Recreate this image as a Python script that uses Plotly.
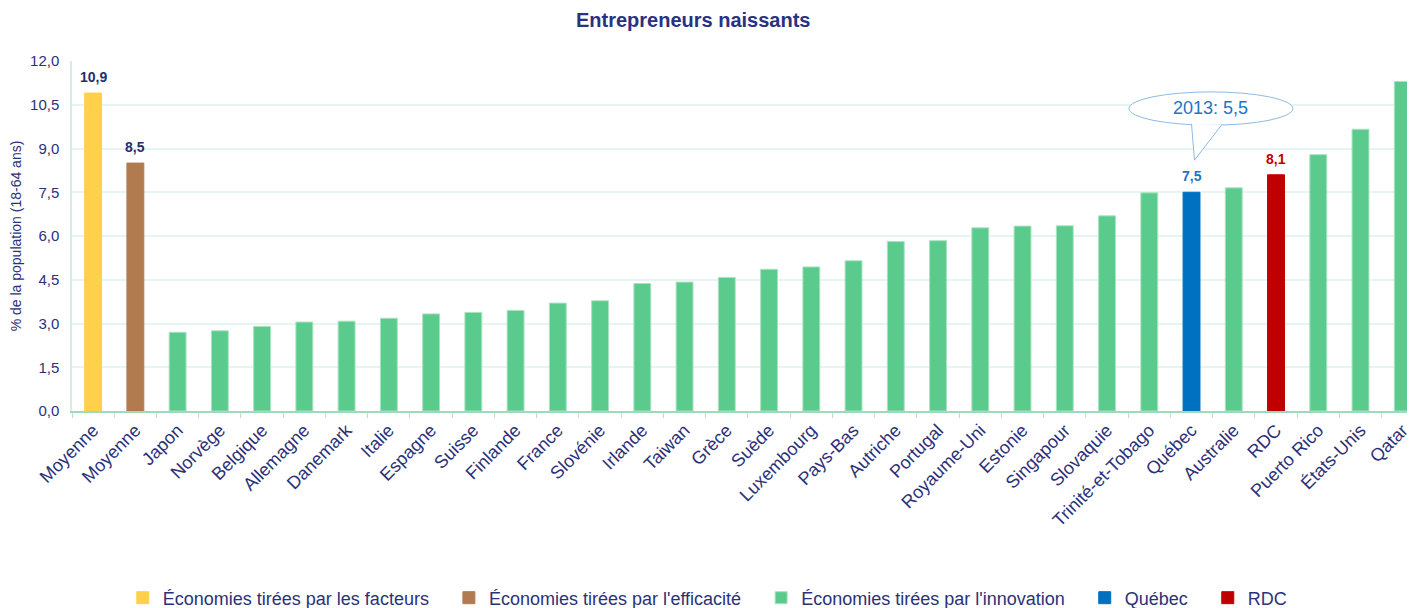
import plotly.graph_objects as go

categories = ["Moyenne", "Moyenne", "Japon", "Norvège", "Belgique", "Allemagne", "Danemark",
              "Italie", "Espagne", "Suisse", "Finlande", "France", "Slovénie", "Irlande",
              "Taiwan", "Grèce", "Suède", "Luxembourg", "Pays-Bas", "Autriche", "Portugal",
              "Royaume-Uni", "Estonie", "Singapour", "Slovaquie", "Trinité-et-Tobago",
              "Québec", "Australie", "RDC", "Puerto Rico", "États-Unis", "Qatar"]
values = [10.9, 8.5, 2.7, 2.75, 2.9, 3.05, 3.08, 3.18, 3.33, 3.38, 3.45, 3.7, 3.78, 4.37,
          4.42, 4.58, 4.86, 4.94, 5.15, 5.81, 5.84, 6.28, 6.34, 6.35, 6.69, 7.48,
          7.5, 7.65, 8.1, 8.79, 9.66, 11.3]
groups = ["facteurs", "efficacite"] + ["innovation"] * 24 + ["quebec", "innovation", "rdc",
          "innovation", "innovation", "innovation"]
labelled = {0: "10,9", 1: "8,5", 26: "7,5", 28: "8,1"}
quebec_2013 = 5.5

group_names = {
    "facteurs": "Économies tirées par les facteurs",
    "efficacite": "Économies tirées par l'efficacité",
    "innovation": "Économies tirées par l'innovation",
    "quebec": "Québec",
    "rdc": "RDC",
}
group_colors = {
    "facteurs": "#FFD04C",
    "efficacite": "#B27B4F",
    "innovation": "#5BCB8D",
    "quebec": "#0070C0",
    "rdc": "#C00000",
}
label_colors = {"facteurs": "#262C6E", "efficacite": "#262C6E", "quebec": "#1C76C2", "rdc": "#C00000"}

NAVY = "#2B3178"
FONT = "Liberation Sans, Arial, sans-serif"
PAD = "\u00a0\u00a0\u00a0"

fig = go.Figure()
order = ["facteurs", "efficacite", "innovation", "quebec", "rdc"]
for k, g in enumerate(order):
    idx = [i for i, gg in enumerate(groups) if gg == g]
    line_col = "#A9E3C4" if g == "innovation" else group_colors[g]
    name = group_names[g] + (PAD if k < len(order) - 1 else "")
    fig.add_trace(go.Bar(
        x=idx, y=[values[i] for i in idx], name=name, width=0.4,
        marker=dict(color=group_colors[g], line=dict(color=line_col, width=1)),
        hoverinfo="skip",
    ))

for i, txt in labelled.items():
    fig.add_annotation(x=i, y=values[i], text="<b>%s</b>" % txt, showarrow=False,
                       yanchor="bottom", yshift=6,
                       font=dict(size=14, color=label_colors[groups[i]], family=FONT))

# callout for Québec 2013
qi = categories.index("Québec")
fig.add_shape(type="circle", xref="x", yref="y", x0=qi - 1.48, x1=qi + 2.4, y0=9.8, y1=10.94,
              line=dict(color="#8DBBE3", width=1), fillcolor="white", layer="above")
fig.add_shape(type="path", xref="x", yref="y",
              path="M %f,%f L %f,%f L %f,%f" % (qi - 0.0, 9.84, qi + 0.07, values[qi] + 1.1, qi + 0.72, 9.82),
              line=dict(color="#8DBBE3", width=1), fillcolor="white", layer="above")
fig.add_annotation(x=qi + 0.46, y=10.4, text="2013: %s" % str(quebec_2013).replace(".", ","),
                   showarrow=False, font=dict(size=18, color="#1C76C2", family=FONT))

fig.update_layout(
    width=1407, height=600,
    margin=dict(l=64, r=0, t=53, b=197),
    paper_bgcolor="white", plot_bgcolor="white",
    separators=", ",
    barmode="overlay",
    font=dict(family=FONT, color=NAVY),
    title=dict(text="<b>Entrepreneurs naissants</b>", x=0.487, xanchor="center",
               y=0.98, yanchor="middle", xref="container", yref="container",
               font=dict(size=20, color="#2B3180", family=FONT)),
    legend=dict(orientation="h", xref="container", yref="container", x=0.497, xanchor="center",
                y=0.0167, yanchor="middle", font=dict(size=18, color=NAVY, family=FONT),
                traceorder="normal", itemwidth=30),
    showlegend=True,
)
fig.update_xaxes(
    range=[-0.5, 31.29], tickmode="array", tickvals=list(range(len(categories))),
    ticktext=categories, tickangle=-45, ticks="", showgrid=False,
    tickfont=dict(size=18, color=NAVY, family=FONT),
    showline=True, linecolor="#9FDBBB", linewidth=1.5,
    minor=dict(tickmode="array", tickvals=[i + 0.5 for i in range(-1, 31)],
               ticks="outside", ticklen=5, tickcolor="#B5E6CB", showgrid=False),
    zeroline=False,
)
fig.update_yaxes(
    range=[0, 12], tick0=0, dtick=1.5, tickformat=".1f",
    showgrid=True, gridcolor="#E4F6ED", gridwidth=1.5,
    showline=True, linecolor="#D5F0E2", linewidth=1.5,
    zeroline=False, ticks="", ticklabelstandoff=8,
    tickfont=dict(size=15, color=NAVY, family=FONT),
    title=dict(text="% de la population (18-64 ans)", standoff=12,
               font=dict(size=14, color=NAVY, family=FONT)),
)

fig.write_html("out.html")
